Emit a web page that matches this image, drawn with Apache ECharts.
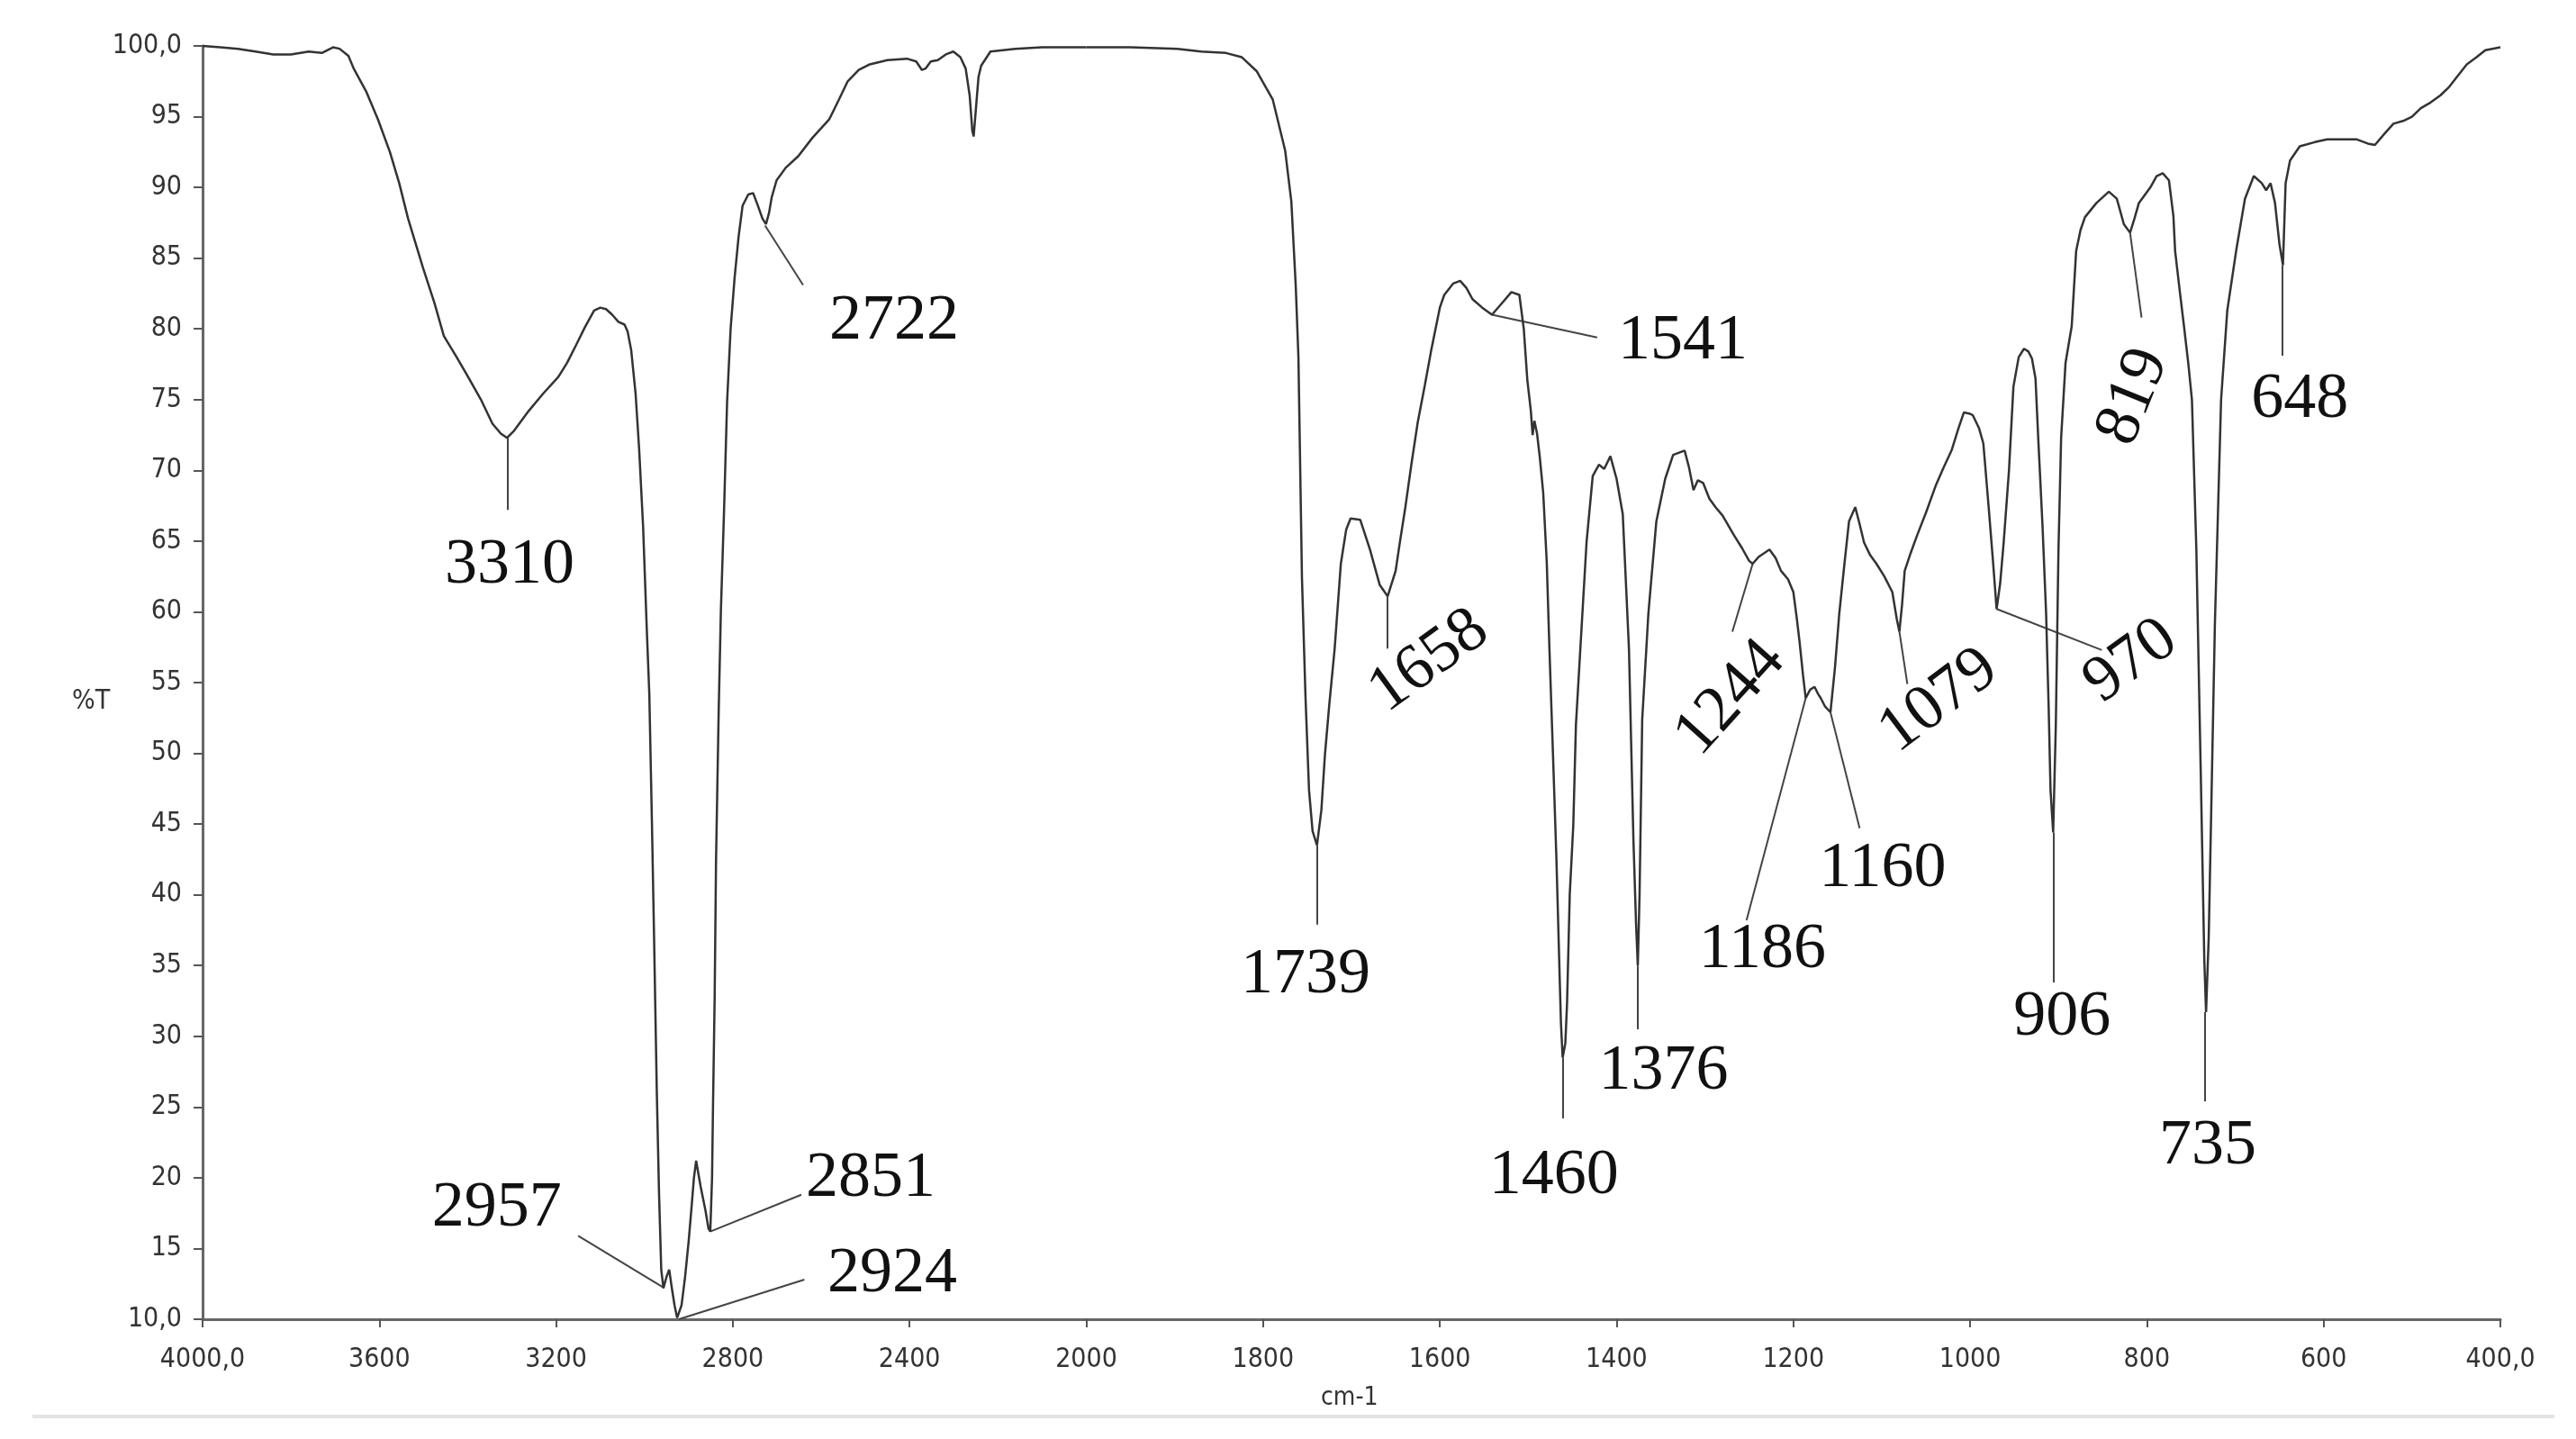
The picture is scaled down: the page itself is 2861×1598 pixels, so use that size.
<!DOCTYPE html>
<html><head><meta charset="utf-8">
<script src="https://cdn.jsdelivr.net/npm/echarts@6/dist/echarts.min.js"></script>
<style>html,body{margin:0;padding:0;background:#fff}#c{width:2861px;height:1598px}</style>
</head><body><div id="c"></div>
<script>
// ---- Spectrum, high-wavenumber part (4000 -> 2000 cm-1) ----
const wnHigh = [4000,3960,3920,3880,3840,3800,3760,3730,3705,3690,3670,3658,3630,3603,3576,3555,3535,3501,3475,3454,3425,3399,3370,3344,3325,3311,3295,3262,3230,3195,3175,3154,3135,3114,3100,3087,3073,3059,3045,3038,3030,3020,3012,3003,2995,2989,2983,2978,2972,2967,2962,2957,2950,2944,2938,2932,2926,2922,2916,2908,2900,2894,2888,2883,2878,2873,2862,2855,2851,2847,2845,2841,2838,2832,2827,2820,2813,2805,2796,2787,2778,2765,2754,2742,2733,2725,2718,2712,2701,2680,2652,2620,2582,2560,2540,2515,2490,2450,2406,2385,2372,2364,2352,2336,2318,2301,2285,2273,2264,2258,2255,2250,2244,2238,2217,2161,2100,2050,2000];
const tHigh  = [100.0,99.9,99.8,99.6,99.4,99.4,99.6,99.5,99.9,99.8,99.3,98.4,96.8,94.8,92.5,90.3,87.8,84.3,81.8,79.5,78.0,76.6,75.0,73.3,72.6,72.3,72.8,74.2,75.4,76.6,77.6,78.9,80.1,81.3,81.5,81.4,81.0,80.5,80.3,79.8,78.5,75.4,71.5,66.0,59.0,54.2,45.0,36.6,26.0,18.9,13.5,12.2,13.0,13.5,12.2,11.0,10.1,10.0,11.0,13.0,15.5,17.7,20.0,21.2,20.3,19.4,17.7,16.4,16.2,20.0,24.7,33.0,42.4,53.0,60.1,67.0,74.8,80.0,83.6,86.5,88.7,89.5,89.6,88.6,87.8,87.4,88.2,89.3,90.5,91.4,92.2,93.5,94.8,96.2,97.5,98.3,98.7,99.0,99.1,98.9,98.3,98.4,98.9,99.0,99.4,99.6,99.2,98.4,96.5,94.0,93.6,95.5,97.8,98.6,99.6,99.8,99.9,99.9,99.9];

// ---- Spectrum, low-wavenumber part (2000 -> 400 cm-1) ----
const wnLow = [2000,1950,1897,1870,1842,1824,1807,1789,1775,1768,1763,1760,1756,1752,1748,1744,1739,1734,1730,1725,1719,1712,1706,1701,1690,1679,1668,1659,1650,1645,1639,1632,1625,1617,1610,1600,1595,1585,1577,1570,1563,1552,1541,1530,1519,1510,1505,1501,1497,1495,1493,1490,1487,1483,1479,1476,1472,1468,1463,1461,1458,1456,1453,1449,1446,1441,1434,1427,1420,1414,1407,1400,1393,1386,1381,1378,1376,1374,1371,1364,1355,1345,1336,1323,1318,1313,1308,1302,1295,1288,1280,1267,1258,1250,1246,1239,1227,1220,1214,1206,1200,1196,1193,1189,1186,1181,1176,1172,1169,1164,1158,1153,1148,1142,1137,1130,1125,1120,1113,1106,1097,1088,1083,1080,1077,1074,1067,1060,1050,1039,1030,1021,1013,1007,1000,997,990,985,979,974,970,966,962,956,951,945,939,934,930,926,923,918,914,911,909,906,903,900,897,892,885,880,875,870,857,843,834,826,819,814,809,796,789,782,775,770,768,763,758,753,749,744,739,735,733,730,728,723,716,709,699,689,679,670,665,660,655,650,646,643,638,627,610,596,583,563,550,542,531,521,510,500,490,479,468,458,448,438,427,417,400];
const tLow  = [99.9,99.9,99.8,99.6,99.5,99.2,98.2,96.2,92.6,89.0,83.0,78.0,62.4,54.0,47.4,44.5,43.5,46.0,49.9,53.5,57.4,63.4,65.8,66.6,66.5,64.4,61.9,61.1,62.9,65.0,67.4,70.5,73.4,76.0,78.4,81.5,82.4,83.2,83.4,82.9,82.1,81.5,81.0,81.8,82.6,82.4,80.0,76.4,74.2,72.5,73.5,72.6,71.0,68.4,63.5,57.4,50.0,42.4,31.0,28.5,29.5,32.4,40.0,44.9,52.0,57.4,64.9,69.6,70.4,70.1,71.0,69.4,66.9,57.4,44.0,38.0,35.0,40.0,52.4,59.9,66.4,69.4,71.1,71.4,70.2,68.6,69.3,69.1,68.0,67.4,66.8,65.4,64.5,63.6,63.4,63.9,64.4,63.8,62.9,62.3,61.4,59.5,57.9,55.5,53.9,54.5,54.7,54.2,53.9,53.3,52.9,56.0,59.9,63.5,66.4,67.4,66.2,64.9,64.0,63.4,62.5,61.4,59.5,58.6,60.5,62.9,64.2,65.4,67.0,68.9,70.2,71.4,73.0,74.1,74.0,73.9,73.0,71.9,67.4,63.5,60.2,62.0,64.9,70.0,75.9,78.0,78.6,78.4,77.9,76.5,72.4,66.0,59.9,53.0,47.4,44.4,52.0,64.4,72.3,77.6,80.2,85.5,87.0,87.9,88.9,89.7,89.2,87.4,86.8,87.8,88.9,90.0,90.8,91.0,90.5,88.0,85.5,82.8,80.2,77.5,75.0,64.4,48.6,35.4,31.7,37.0,43.3,59.2,75.0,81.3,85.5,89.2,90.8,90.3,89.8,90.3,88.9,86.0,84.5,90.3,91.9,92.9,93.2,93.4,93.4,93.4,93.1,93.0,93.8,94.5,94.7,95.0,95.6,96.0,96.5,97.1,97.9,98.7,99.2,99.7,99.9];

// ---- Peak annotations ----
const peakNames   = ['3310','2957','2924','2851','2722','1739','1658','1541','1460','1376','1244','1186','1160','1079','970','906','819','735','648'];
const peakWn      = [3310,2955,2922,2851,2727,1739,1659,1541,1461,1376,1246,1186,1158,1080,970,906,819,734,647];
const peakT       = [72.3,12.2,10.0,16.2,87.3,43.5,61.1,81.0,28.5,35.0,63.4,53.9,52.9,58.6,60.2,44.4,86.8,31.7,84.5];
const leaderEndWn = [3310,3150,2638,2645,2641,1739,1659,1422,1461,1376,1269,1253,1125,1071,851,906,806,734,647];
const leaderEndT  = [67.2,15.9,12.8,18.8,83.1,37.9,57.4,79.4,24.2,30.5,58.6,38.2,44.7,54.9,57.3,33.8,80.8,25.4,78.1];
const labelWn     = [3305,3334,2439,2488,2435,1752,1612,1325,1471,1347,1271,1235,1099,1035,818,896,815,731,627];
const labelT      = [63.3,17.8,13.2,19.9,80.5,34.3,56.5,79.1,20.1,27.5,53.9,36.1,41.8,53.7,56.5,31.3,75.2,22.2,75.0];
const labelAngle  = [0,0,0,0,0,0,36,0,0,0,48,0,0,37,36,0,68,0,0];

// ---- Tick labels ----
const xTicksHigh = [4000,3600,3200,2800,2400,2000];
const xTickLabelsHigh = ['4000,0','3600','3200','2800','2400','2000'];
const xTicksLow = [2000,1800,1600,1400,1200,1000,800,600,400];
const xTickLabelsLow = ['','1800','1600','1400','1200','1000','800','600','400,0'];
const yTicks = [10,15,20,25,30,35,40,45,50,55,60,65,70,75,80,85,90,95,100];
const yTickLabels = ['10,0','15','20','25','30','35','40','45','50','55','60','65','70','75','80','85','90','95','100,0'];

function lookup(ticks, labels, v){ const i = ticks.findIndex(t => Math.abs(t - v) < 1e-6); return i >= 0 ? labels[i] : ''; }

const SMALL_FONT = "'DejaVu Sans Condensed', 'Liberation Sans', sans-serif";
const SERIF = "'Liberation Serif', 'DejaVu Serif', serif";

const pairsHigh = wnHigh.map((w,i)=>[w,tHigh[i]]);
const pairsLow = wnLow.map((w,i)=>[w,tLow[i]]);

function leaders(high){
  const out = [];
  peakNames.forEach((n,i)=>{
    if ((peakWn[i] >= 2000) === high) out.push({coords:[[peakWn[i],peakT[i]],[leaderEndWn[i],leaderEndT[i]]]});
  });
  return out;
}
function labels(high){
  const out = [];
  peakNames.forEach((n,i)=>{
    if ((peakWn[i] >= 2000) === high) out.push({name:n, value:[labelWn[i],labelT[i]], label:{rotate:labelAngle[i]}});
  });
  return out;
}

const axisLineStyle = {color:'#666', width:3};
const tickStyle = {color:'#555', width:2};
const xLabelStyle = {fontSize:30, fontFamily:SMALL_FONT, color:'#333', margin:30};

function xAxis(idx, min, max, interval, ticks, tickLabels){
  return {type:'value', gridIndex:idx, inverse:true, min, max, interval,
    axisLine:{show:true, lineStyle:axisLineStyle},
    axisTick:{show:true, length:9, lineStyle:tickStyle},
    axisLabel:Object.assign({formatter:v=>lookup(ticks,tickLabels,v)}, xLabelStyle),
    splitLine:{show:false}};
}

const lineStyle = {color:'#333', width:2.5};
const leaderStyle = {color:'#444', width:2, opacity:1, curveness:0};
const labelSeries = (idx, high) => ({
  type:'scatter', xAxisIndex:idx, yAxisIndex:idx, symbolSize:1, itemStyle:{color:'rgba(0,0,0,0)'}, silent:true, clip:false,
  label:{show:true, position:'inside', formatter:'{b}', fontFamily:SERIF, fontSize:72, color:'#111', opacity:1},
  data:labels(high)
});

const option = {
  backgroundColor:'#ffffff',
  animation:false,
  grid:[
    {left:225, right:1654.5, top:51, bottom:133, outerBoundsMode:'none'},
    {left:1206.5, right:84, top:51, bottom:133, outerBoundsMode:'none'}
  ],
  xAxis:[
    xAxis(0, 2000, 4000, 400, xTicksHigh, xTickLabelsHigh),
    xAxis(1, 400, 2000, 200, xTicksLow, xTickLabelsLow)
  ],
  yAxis:[
    {type:'value', gridIndex:0, min:10, max:100, interval:5,
     axisLine:{show:true, lineStyle:axisLineStyle},
     axisTick:{show:true, length:10, lineStyle:tickStyle},
     axisLabel:{formatter:v=>lookup(yTicks,yTickLabels,v), fontSize:30, fontFamily:SMALL_FONT, color:'#333', margin:23},
     splitLine:{show:false}},
    {type:'value', gridIndex:1, min:10, max:100, interval:5, show:false, splitLine:{show:false}}
  ],
  graphic:[
    {type:'text', left:80, top:764, style:{text:'%T', fontSize:30, fontFamily:SMALL_FONT, fill:'#333'}},
    {type:'text', left:1467, top:1539, style:{text:'cm-1', fontSize:28, fontFamily:SMALL_FONT, fill:'#333'}},
    {type:'line', shape:{x1:36, y1:1573, x2:2837, y2:1573}, style:{stroke:'#e4e4e4', lineWidth:4}}
  ],
  series:[
    {type:'line', xAxisIndex:0, yAxisIndex:0, data:pairsHigh, showSymbol:false, clip:false, lineStyle, silent:true},
    {type:'line', xAxisIndex:1, yAxisIndex:1, data:pairsLow, showSymbol:false, clip:false, lineStyle, silent:true},
    {type:'lines', coordinateSystem:'cartesian2d', xAxisIndex:0, yAxisIndex:0, polyline:false, silent:true, lineStyle:leaderStyle, data:leaders(true)},
    {type:'lines', coordinateSystem:'cartesian2d', xAxisIndex:1, yAxisIndex:1, polyline:false, silent:true, lineStyle:leaderStyle, data:leaders(false)},
    labelSeries(0, true),
    labelSeries(1, false)
  ]
};
const chart = echarts.init(document.getElementById('c'), null, {renderer:'canvas'});
chart.setOption(option);
</script></body></html>
